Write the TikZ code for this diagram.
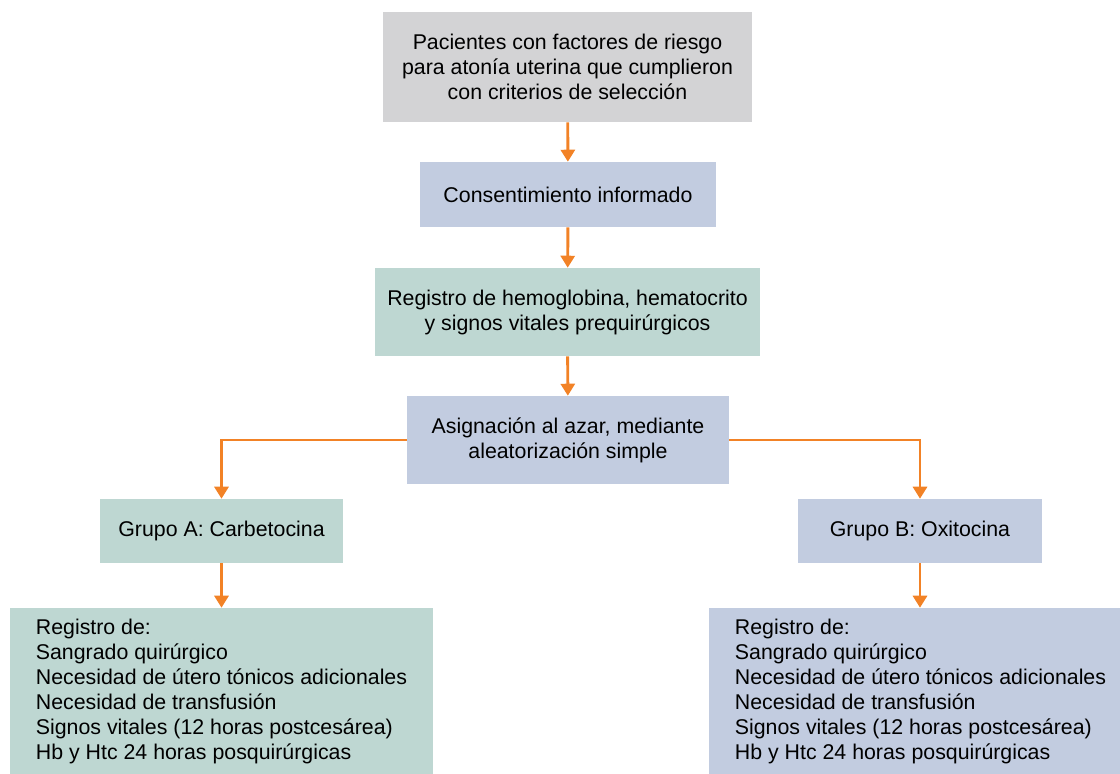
\documentclass[tikz,border=0pt]{standalone}
\usepackage{fontspec}
\setmainfont{Liberation Sans}
\usepackage{xcolor}
\usepackage{tikz}
\usetikzlibrary{arrows.meta,positioning}
\definecolor{boxGray}{RGB}{211,211,213}
\definecolor{boxBlue}{RGB}{194,204,224}
\definecolor{boxGreen}{RGB}{190,215,210}
\definecolor{flowOrange}{RGB}{242,130,38}
\tikzset{
  box/.style={rectangle, inner sep=0pt, align=center, text=black,
    font=\fontsize{16}{18.75}\selectfont},
  flow/.style={flowOrange, line width=2.2pt, -{Triangle[length=9pt,width=10.5pt]}}
}

\begin{document}
\begin{tikzpicture}[x=0.75pt, y=-0.75pt]
\clip (0,0) rectangle (1120,774);
\useasboundingbox (0,0) rectangle (1120,774);

\node[box, fill=boxGray, minimum width=369*0.75pt, minimum height=110*0.75pt] (pacientes) at (567.5,67)
  {Pacientes con factores de riesgo\\para atonía uterina que cumplieron\\con criterios de selección};
\node[box, fill=boxBlue, minimum width=296*0.75pt, minimum height=65*0.75pt] (consent) at (568,194.5)
  {Consentimiento informado};
\node[box, fill=boxGreen, minimum width=385*0.75pt, minimum height=88*0.75pt] (registro) at (567.5,312)
  {Registro de hemoglobina, hematocrito\\y signos vitales prequirúrgicos};
\node[box, fill=boxBlue, minimum width=322*0.75pt, minimum height=88*0.75pt] (asignacion) at (568,440)
  {Asignación al azar, mediante\\aleatorización simple};

\node[box, fill=boxGreen, minimum width=243*0.75pt, minimum height=64*0.75pt] (grupoA) at (221.5,531)
  {Grupo A: Carbetocina};
\node[box, fill=boxBlue, minimum width=244*0.75pt, minimum height=64*0.75pt] (grupoB) at (920,531)
  {Grupo B: Oxitocina};

\node[box, align=left, fill=boxGreen, minimum width=423*0.75pt, minimum height=166*0.75pt] (resA) at (221.5,691)
  {Registro de:\\Sangrado quirúrgico\\Necesidad de útero tónicos adicionales\\Necesidad de transfusión\\Signos vitales (12 horas postcesárea)\\Hb y Htc 24 horas posquirúrgicas};
\node[box, align=left, fill=boxBlue, minimum width=423*0.75pt, minimum height=166*0.75pt] (resB) at (920.5,691)
  {Registro de:\\Sangrado quirúrgico\\Necesidad de útero tónicos adicionales\\Necesidad de transfusión\\Signos vitales (12 horas postcesárea)\\Hb y Htc 24 horas posquirúrgicas};

\draw[flow] (pacientes) -- (consent);
\draw[flow] (consent) -- (registro);
\draw[flow] (registro) -- (asignacion);
\draw[flow] (asignacion.west) -| (grupoA.north);
\draw[flow] (asignacion.east) -| (grupoB.north);
\draw[flow] (grupoA) -- (resA);
\draw[flow] (grupoB.south) -- (grupoB.south |- resB.north);
\end{tikzpicture}
\end{document}
